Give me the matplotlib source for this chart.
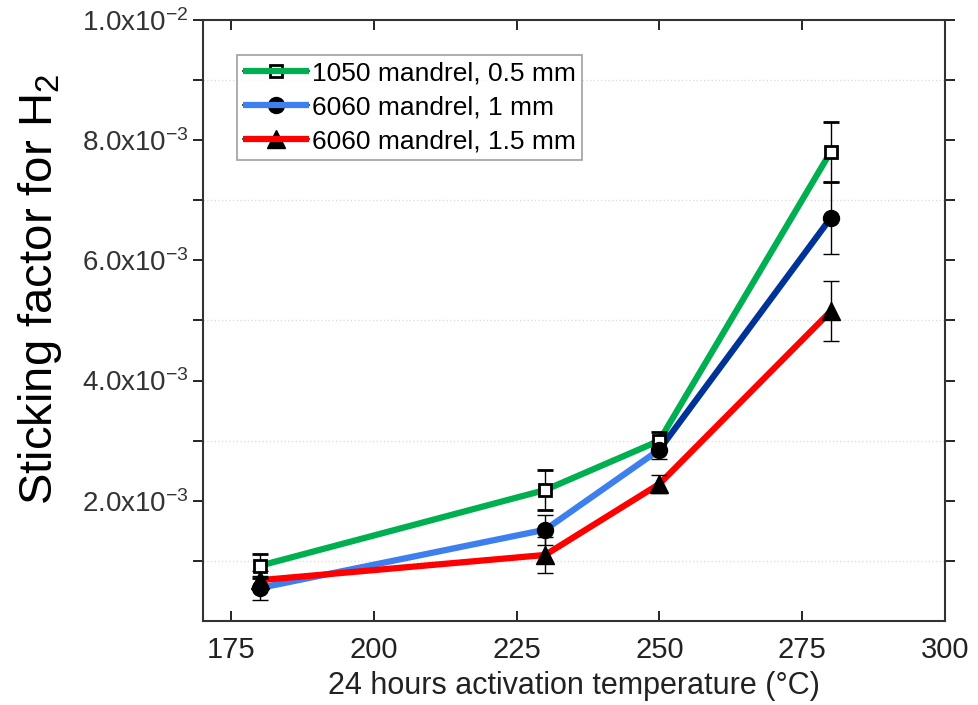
import matplotlib
matplotlib.use("Agg")
import matplotlib.pyplot as plt
from matplotlib.lines import Line2D
from matplotlib.ticker import FixedLocator, FuncFormatter

plt.rcParams['font.family'] = ['Liberation Sans', 'DejaVu Sans']
plt.rcParams['mathtext.fontset'] = 'custom'
plt.rcParams['mathtext.rm'] = 'Liberation Sans'
plt.rcParams['mathtext.it'] = 'Liberation Sans:italic'

# data
temps = [180, 230, 250, 280]
sf_1050_05 = [0.92e-3, 2.18e-3, 3.00e-3, 7.80e-3]
err_1050_05 = [0.20e-3, 0.33e-3, 0.15e-3, 0.50e-3]
sf_6060_1 = [0.55e-3, 1.52e-3, 2.85e-3, 6.70e-3]
err_6060_1 = [0.20e-3, 0.25e-3, 0.15e-3, 0.60e-3]
sf_6060_15 = [0.68e-3, 1.10e-3, 2.28e-3, 5.15e-3]
err_6060_15 = [0.15e-3, 0.30e-3, 0.15e-3, 0.50e-3]
labels = ['1050 mandrel, 0.5 mm', '6060 mandrel, 1 mm', '6060 mandrel, 1.5 mm']

fig = plt.figure(figsize=(9.79, 7.05), dpi=100)
ax = fig.add_axes([0.207, 0.119, 0.758, 0.853])

green = '#00b050'
blue = '#3d7fef'
navy = '#003399'
red = '#ff0000'

ax.yaxis.grid(True, which='minor', color='#dddddd', linestyle=':', linewidth=1)

series = [
    (sf_1050_05, err_1050_05, dict(marker='s', ms=9, mfc='white', mew=2)),
    (sf_6060_1, err_6060_1, dict(marker='o', ms=11.5, mfc='black')),
    (sf_6060_15, err_6060_15, dict(marker='^', ms=13, mfc='black')),
]

handles = []
for vals, errs, mk in series:
    # thin black connecting line under the coloured one
    ax.plot(temps, vals, color='black', lw=1.2, zorder=2)
    ax.errorbar(temps, vals, yerr=errs, ls='none', color='black', mec='black',
                capsize=6, elinewidth=1, capthick=1, zorder=3, **mk)
    handles.append(Line2D([], [], color='black', lw=1.2, mec='black', **mk))

# coloured overlay lines
g, = ax.plot(temps, sf_1050_05, color=green, lw=4.5, solid_capstyle='butt', zorder=2.5)
b, = ax.plot(temps[:3], sf_6060_1[:3], color=blue, lw=4.5, solid_capstyle='butt', zorder=2.5)
ax.plot(temps[2:], sf_6060_1[2:], color=navy, lw=4.5, solid_capstyle='butt', zorder=2.5)
r, = ax.plot(temps, sf_6060_15, color=red, lw=4.5, solid_capstyle='butt', zorder=2.5)

ax.set_xlim(170, 300)
ax.set_ylim(0, 0.01)
ax.xaxis.set_major_locator(FixedLocator([175, 200, 225, 250, 275, 300]))
ax.yaxis.set_major_locator(FixedLocator([2e-3, 4e-3, 6e-3, 8e-3, 1e-2]))
ax.yaxis.set_minor_locator(FixedLocator([1e-3, 3e-3, 5e-3, 7e-3, 9e-3]))


def sci(v, pos):
    exp = -2 if v >= 0.0099 else -3
    mant = v / 10 ** exp
    return r'$%.1f\mathrm{x}10^{%d}$' % (mant, exp)


ax.yaxis.set_major_formatter(FuncFormatter(sci))
ax.tick_params(axis='y', which='both', direction='out', length=7, width=1.2,
               labelsize=20, labelcolor='#333333', right=True, pad=3)
ax.tick_params(axis='x', direction='in', length=7, width=1.2, top=True,
               labelsize=21, labelcolor='#222222', pad=11)
for sp in ax.spines.values():
    sp.set_linewidth(1.5)
    sp.set_color('#333333')

ax.set_xlabel('24 hours activation temperature (°C)', fontsize=22,
              color='#222222', labelpad=5)
fig.text(0.041, 0.589, r'Sticking factor for H$_2$', rotation=90,
         fontsize=34, ha='center', va='center')

leg = ax.legend([(handles[0], g), (handles[1], b), (handles[2], r)], labels,
                loc='upper left', bbox_to_anchor=(0.046, 0.942), fontsize=19,
                frameon=True, fancybox=False, edgecolor='#888888',
                handlelength=2.5, handletextpad=0.1, labelspacing=0.38,
                borderpad=0.25, borderaxespad=0)
leg.get_frame().set_linewidth(1.2)

fig.savefig('out.png', dpi=100)
